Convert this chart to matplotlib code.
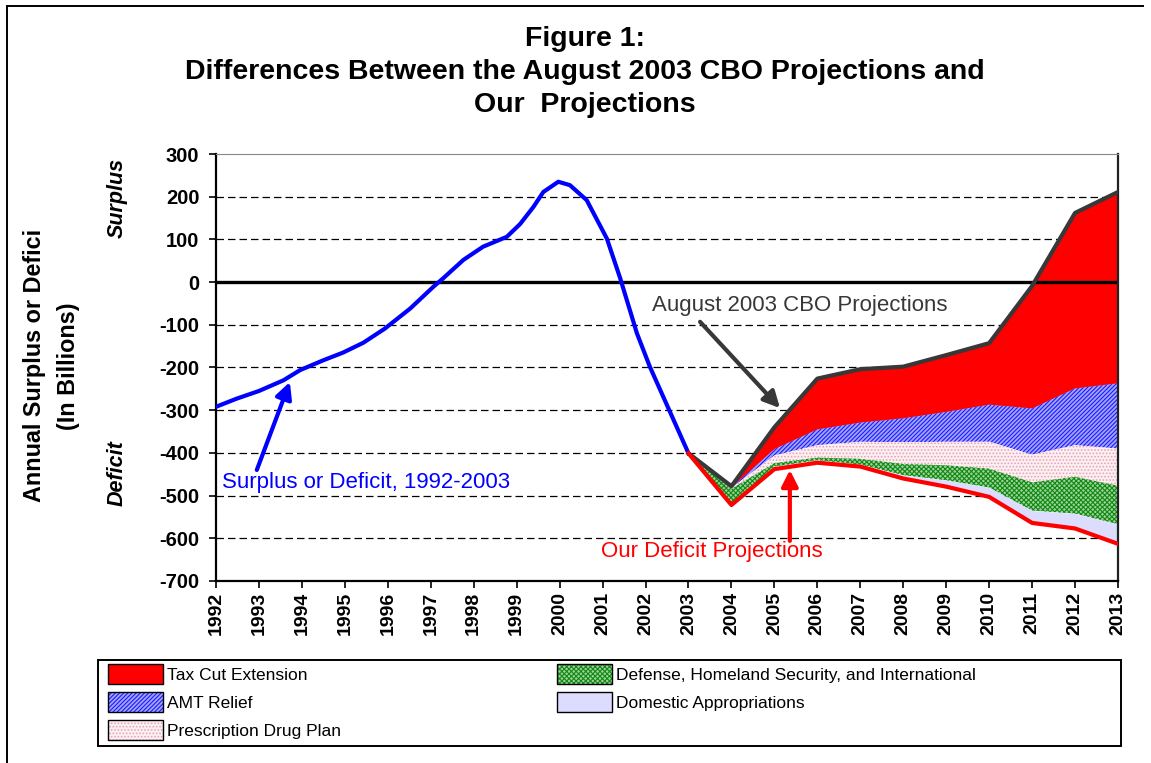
import matplotlib
matplotlib.use('Agg')
import matplotlib.pyplot as plt
import numpy as np
from matplotlib.patches import Patch, Rectangle
from matplotlib.lines import Line2D
from matplotlib.legend_handler import HandlerTuple

plt.rcParams['font.family'] = ['Liberation Sans', 'DejaVu Sans']
plt.rcParams['hatch.linewidth'] = 0.8

# ---------------- data ----------------
hist_years = [1992.0, 1992.48, 1993.0, 1993.57, 1993.96, 1994.5, 1994.96, 1995.43,
              1995.93, 1996.52, 1997.06, 1997.29, 1997.76, 1998.22, 1998.77, 1999.08,
              1999.39, 1999.62, 1999.97, 2000.24, 2000.63, 2001.1, 2001.41, 2001.8,
              2002.1, 2003.0]
hist_values = [-292, -273, -255, -230, -206, -183, -165, -142,
               -109, -62, -11, 9, 52, 83, 106, 136,
               176, 211, 235, 227, 192, 102, 9, -120,
               -198, -401]

proj_years = [2003, 2004, 2005, 2006, 2007, 2008, 2009, 2010, 2011, 2012, 2013]
cbo_values = [-401, -478, -340, -226, -204, -198, -171, -143, -9, 162, 211]
tax_cut    = [0, 3, 51, 119, 125, 121, 133, 144, 287, 411, 448]
amt_relief = [0, 1, 15, 37, 45, 56, 70, 87, 108, 133, 153]
rx_plan    = [0, 2, 18, 29, 40, 51, 55, 63, 65, 74, 87]
defense    = [0, 36, 8, 6, 13, 26, 35, 44, 66, 86, 90]
domestic   = [0, 2, 6, 6, 5, 8, 15, 22, 29, 35, 46]

year_ticks = list(range(1992, 2014))
y_ticks = list(range(-700, 301, 100))

layer_names = ['Tax Cut Extension', 'AMT Relief', 'Prescription Drug Plan',
               'Defense, Homeland Security, and International', 'Domestic Appropriations']

# ---------------- figure ----------------
W, H = 1151, 763
fig = plt.figure(figsize=(W / 100, H / 100), dpi=100)
ax = fig.add_axes([216 / W, 1 - 581 / H, 902 / W, 427 / H])
ax.set_xlim(1992, 2013)
ax.set_ylim(-700, 300)

# gridlines
for v in y_ticks:
    if v not in (-700, 0, 300):
        ax.axhline(v, color='black', lw=0.9, ls=(0, (6, 3.2)), zorder=0.5)

# stacked layers
yrs = np.array(proj_years, dtype=float)
top = np.array(cbo_values, dtype=float)
styles = [
    dict(facecolor='#ff0000', edgecolor='#ff0000', hatch=None),
    dict(facecolor='#a4a4ff', edgecolor='#1a1aff', hatch='////////'),
    dict(facecolor='#fcf0f3', edgecolor='#e6a3b4', hatch='.....'),
    dict(facecolor='#9fd09f', edgecolor='#108a10', hatch='xxxxxxx'),
    dict(facecolor='#dcdcff', edgecolor='#dcdcff', hatch=None),
]
handles = []
for vals, st, name in zip([tax_cut, amt_relief, rx_plan, defense, domestic], styles, layer_names):
    bottom = top - np.array(vals, dtype=float)
    ax.fill_between(yrs, bottom, top, facecolor=st['facecolor'], edgecolor=st['edgecolor'],
                    hatch=st['hatch'], linewidth=0, zorder=1)
    h1 = Patch(facecolor=st['facecolor'], edgecolor=st['edgecolor'], hatch=st['hatch'], linewidth=0)
    h2 = Patch(facecolor='none', edgecolor='black', linewidth=1.0)
    handles.append((h1, h2))
    top = bottom
our_values = top

ax.axhline(0, color='black', lw=2.4, zorder=2)

ax.plot(hist_years, hist_values, color='#0000ff', lw=3.0, zorder=3, solid_joinstyle='round')
ax.plot(proj_years, cbo_values, color='#383838', lw=3.0, zorder=3)
ax.plot(proj_years, our_values, color='#ff0000', lw=3.0, zorder=3)

# axes styling
for s in ['left', 'bottom']:
    ax.spines[s].set_linewidth(1.6)
    ax.spines[s].set_color('black')
ax.spines['right'].set_linewidth(1.6)
ax.spines['right'].set_color('#222222')
ax.spines['top'].set_linewidth(0.8)
ax.spines['top'].set_color('#888888')

ax.set_yticks(y_ticks)
ax.set_yticklabels([str(v) for v in y_ticks], fontsize=14.5, fontweight='bold')
ax.set_xticks(year_ticks)
ax.set_xticklabels([str(y) for y in year_ticks], fontsize=14, fontweight='bold', rotation=90)
ax.tick_params(axis='y', direction='out', length=5, width=1.2, pad=7)
ax.tick_params(axis='x', direction='out', length=5, width=1.2, pad=3)

# annotations
ax.text(2002.15, -54, 'August 2003 CBO Projections', color='#383838', fontsize=16,
        ha='left', va='center', zorder=4)
ax.annotate('', xy=(2005.13, -295), xytext=(2003.27, -93),
            arrowprops=dict(arrowstyle='-|>,head_length=0.75,head_width=0.38', color='#383838',
                            lw=3.0, mutation_scale=13, shrinkA=0, shrinkB=0), zorder=4)

ax.text(1992.14, -470, 'Surplus or Deficit, 1992-2003', color='#0000ff', fontsize=16,
        ha='left', va='center', zorder=4)
ax.annotate('', xy=(1993.72, -234), xytext=(1992.95, -440),
            arrowprops=dict(arrowstyle='-|>,head_length=0.75,head_width=0.38', color='#0000ff',
                            lw=3.0, mutation_scale=13, shrinkA=0, shrinkB=0), zorder=4)

ax.text(2000.96, -630, 'Our Deficit Projections', color='#ff0000', fontsize=16,
        ha='left', va='center', zorder=4)
ax.annotate('', xy=(2005.36, -440), xytext=(2005.36, -606),
            arrowprops=dict(arrowstyle='-|>,head_length=0.75,head_width=0.38', color='#ff0000',
                            lw=3.0, mutation_scale=13, shrinkA=0, shrinkB=0), zorder=4)

# titles
tx = 585 / W
tfs = 20.5
fig.text(tx, 1 - 39 / H, 'Figure 1:', ha='center', va='center', fontsize=tfs, fontweight='bold')
fig.text(tx, 1 - 72 / H, 'Differences Between the August 2003 CBO Projections and',
         ha='center', va='center', fontsize=tfs, fontweight='bold')
fig.text(tx, 1 - 105 / H, 'Our  Projections', ha='center', va='center', fontsize=tfs, fontweight='bold')

# y labels
fig.text(35 / W, 1 - 365 / H, 'Annual Surplus or Defici', rotation=90, ha='center', va='center',
         fontsize=16.8, fontweight='bold')
fig.text(68 / W, 1 - 366 / H, '(In Billions)', rotation=90, ha='center', va='center',
         fontsize=16.8, fontweight='bold')
fig.text(117 / W, 1 - 198 / H, 'Surplus', rotation=90, ha='center', va='center',
         fontsize=15.5, fontweight='bold', style='italic')
fig.text(117 / W, 1 - 473 / H, 'Deficit', rotation=90, ha='center', va='center',
         fontsize=15.5, fontweight='bold', style='italic')

# legend
fs = 12.5
fpx = fs * 100 / 72
leg_kw = dict(loc='upper left', frameon=False, fontsize=fs, borderpad=0, borderaxespad=0,
              handlelength=55 / fpx, handleheight=1.4, labelspacing=0.45,
              handletextpad=4.5 / fpx, handler_map={tuple: HandlerTuple(ndivide=1)})
leg1 = fig.legend(handles[:3], layer_names[:3], bbox_to_anchor=(107.7 / W, 1 - 664 / H), **leg_kw)
leg2 = fig.legend(handles[3:], layer_names[3:], bbox_to_anchor=(557 / W, 1 - 664 / H), **leg_kw)
fig.add_artist(Rectangle((97.7 / W, 1 - 745.7 / H), (1120.7 - 97.7) / W, (745.7 - 660) / H,
                         transform=fig.transFigure, fill=False, edgecolor='black', lw=1.4))

# outer frame
fig.add_artist(Line2D([7 / W, 7 / W], [0, 1 - 6 / H], transform=fig.transFigure, color='black', lw=1.4))
fig.add_artist(Line2D([7 / W, 1143 / W], [1 - 6 / H, 1 - 6 / H], transform=fig.transFigure,
                      color='black', lw=1.4))

fig.savefig('out.png', dpi=100)
